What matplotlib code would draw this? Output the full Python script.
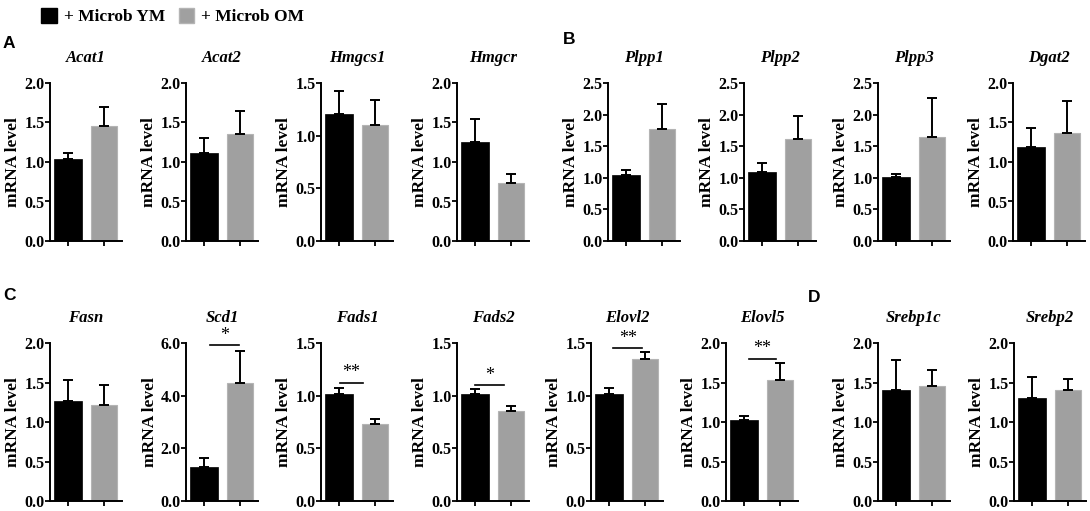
import numpy as np
import matplotlib.pyplot as plt
from matplotlib.patches import Patch

plt.rcParams['font.family'] = ['Liberation Serif', 'DejaVu Serif']
plt.rcParams['font.weight'] = 'bold'
plt.rcParams['axes.linewidth'] = 1.4

# ---- data ----
genes = ['Acat1', 'Acat2', 'Hmgcs1', 'Hmgcr', 'Plpp1', 'Plpp2', 'Plpp3', 'Dgat2',
         'Fasn', 'Scd1', 'Fads1', 'Fads2', 'Elovl2', 'Elovl5', 'Srebp1c', 'Srebp2']
ym_mean = [1.04, 1.12, 1.21, 1.25, 1.04, 1.09, 1.02, 1.19,
           1.26, 1.30, 1.02, 1.02, 1.02, 1.03, 1.41, 1.31]
ym_err = [0.08, 0.18, 0.21, 0.29, 0.08, 0.14, 0.04, 0.24,
          0.27, 0.32, 0.05, 0.04, 0.05, 0.05, 0.37, 0.26]
om_mean = [1.45, 1.36, 1.10, 0.74, 1.78, 1.61, 1.65, 1.37,
           1.22, 4.48, 0.73, 0.85, 1.35, 1.53, 1.45, 1.40]
om_err = [0.25, 0.29, 0.24, 0.11, 0.38, 0.36, 0.62, 0.40,
          0.25, 1.20, 0.05, 0.05, 0.06, 0.22, 0.21, 0.15]
y_max = [2.0, 2.0, 1.5, 2.0, 2.5, 2.5, 2.5, 2.0,
         2.0, 6.0, 1.5, 1.5, 1.5, 2.0, 2.0, 2.0]
y_step = [0.5, 0.5, 0.5, 0.5, 0.5, 0.5, 0.5, 0.5,
          0.5, 2.0, 0.5, 0.5, 0.5, 0.5, 0.5, 0.5]
# significance: gene -> (stars, x0, x1, y)
sig = {'Scd1': ('*', 0.17, 0.96, 5.92),
       'Fads1': ('**', 0.02, 0.66, 1.12),
       'Fads2': ('*', 0.0, 0.8, 1.10),
       'Elovl2': ('**', 0.12, 0.93, 1.45),
       'Elovl5': ('**', 0.13, 0.90, 1.80)}
groups = ['+ Microb YM', '+ Microb OM']
colors = ['black', '#a0a0a0']

# ---- layout (pixels) ----
W, H = 1090, 511
lefts = [50, 186, 321, 457, 608, 744, 878, 1013,
         50, 186, 321, 457, 591, 726, 878, 1014]
tops = [83] * 8 + [343] * 8
aw, ah = 72, 158

fig = plt.figure(figsize=(W / 100, H / 100), dpi=100)

for i, g in enumerate(genes):
    ax = fig.add_axes([lefts[i] / W, 1 - (tops[i] + ah) / H, aw / W, ah / H])
    ax.bar([0], [ym_mean[i]], width=0.76, color=colors[0], edgecolor=colors[0], linewidth=0.5)
    ax.bar([1], [om_mean[i]], width=0.74, color=colors[1], edgecolor='#b4b4b4', linewidth=0.8)
    ax.errorbar([0, 1], [ym_mean[i], om_mean[i]],
                yerr=[[0, 0], [ym_err[i], om_err[i]]],
                fmt='none', ecolor='black', elinewidth=1.4, capsize=3.8, capthick=1.4,
                clip_on=False)
    ax.set_xlim(-0.5, 1.5)
    ax.set_ylim(0, y_max[i])
    ticks = np.arange(0, y_max[i] + 1e-9, y_step[i])
    ax.set_yticks(ticks)
    ax.set_yticklabels(['%.1f' % t for t in ticks])
    ax.set_xticks([0, 1])
    ax.set_xticklabels([])
    ax.spines['top'].set_visible(False)
    ax.spines['right'].set_visible(False)
    ax.tick_params(axis='both', direction='out', length=3.5, width=1.3, labelsize=11.5, pad=0.5)
    for lab in ax.get_yticklabels():
        lab.set_fontweight('bold')
    ax.set_ylabel('mRNA level', fontsize=12.5, fontweight='bold', labelpad=2)
    ax.set_title(g, fontsize=12, fontweight='bold', style='italic', pad=15)
    if g in sig:
        s, x0, x1, yy = sig[g]
        ax.plot([x0, x1], [yy, yy], color='black', lw=1.2, clip_on=False)
        ax.text((x0 + x1) / 2, yy + 0.01 * y_max[i], s, ha='center', va='bottom',
                fontsize=13, fontweight='normal')

# panel letters
for lab, x, y in [('A', 3, 43), ('B', 563, 40), ('C', 3, 295), ('D', 808, 297)]:
    fig.text(x / W, 1 - y / H, lab, fontsize=12.5, fontweight='bold',
             family='Liberation Sans', ha='left', va='center')

handles = [Patch(facecolor=colors[0], edgecolor=colors[0]),
           Patch(facecolor=colors[1], edgecolor='#b4b4b4')]
fig.legend(handles, groups, loc='upper left', bbox_to_anchor=(29 / W, 1 + 4 / H),
           ncol=2, frameon=False, fontsize=12.5, handlelength=0.9, handleheight=0.9,
           handletextpad=0.4, columnspacing=0.8, borderaxespad=0.3)

fig.savefig('out.png', dpi=100)
